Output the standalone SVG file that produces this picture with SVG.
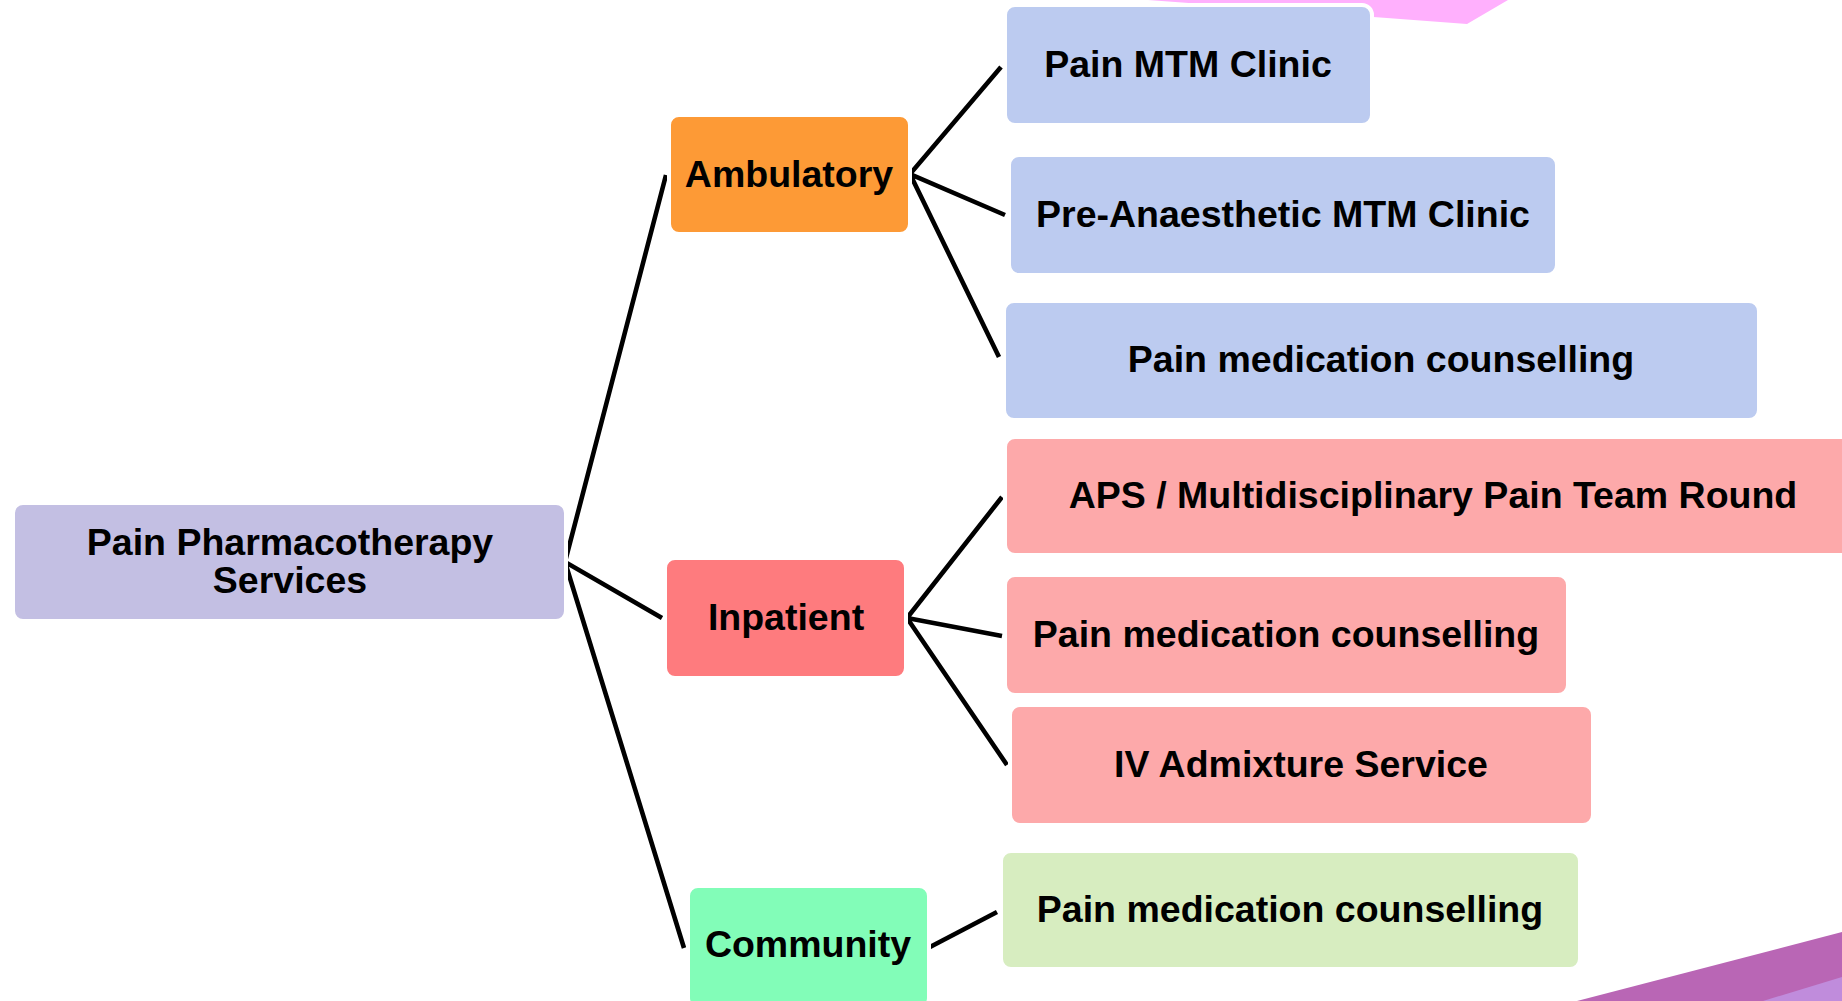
<svg xmlns="http://www.w3.org/2000/svg" width="1842" height="1001" viewBox="0 0 1842 1001">
<style>
.box{stroke:#ffffff;stroke-width:4}
.lbl{font-family:"Liberation Sans",Arial,sans-serif;font-weight:bold;font-size:37.5px;fill:#000;text-anchor:middle}
.conn{fill:none;stroke:#000;stroke-width:4.6;stroke-linejoin:miter;stroke-miterlimit:20}
.blue{fill:#bccbf0}
.pink{fill:#fda9aa}
.green{fill:#d7edc0}
</style>
<rect x="0" y="0" width="1842" height="1001" fill="#ffffff"/>
<g id="decor">
<polygon points="1148,0 1182,2.5 1467,24 1508,0" fill="#ffb0fd"/>
<polygon points="1577,1001 1842,932 1842,1001" fill="#b966b5"/>
<polygon points="1763,1001 1842,977 1842,1001" fill="#c08cdc"/>
</g>
<g id="connectors">
<path class="conn" d="M666,175 L565,562 L662,618 M565,562 L684,948"/>
<path class="conn" d="M1001,67 L910,174 L1005,215 M910,174 L999,357"/>
<path class="conn" d="M1002,497 L907,618 L1002,636 M907,618 L1007,765"/>
<path class="conn" d="M930,947 L997,912"/>
</g>
<g id="root">
<rect class="box" x="13" y="503" width="553" height="118" rx="10" fill="#c3bfe3"/>
<text class="lbl" x="290" y="555">Pain Pharmacotherapy</text>
<text class="lbl" x="290" y="593">Services</text>
</g>
<g id="ambulatory">
<rect class="box" x="669" y="115" width="241" height="119" rx="10" fill="#fd9a36"/>
<text class="lbl" x="789" y="187">Ambulatory</text>
</g>
<g id="inpatient">
<rect class="box" x="665" y="558" width="241" height="120" rx="10" fill="#fe7b7e"/>
<text class="lbl" x="786" y="630">Inpatient</text>
</g>
<g id="community">
<rect class="box" x="688" y="886" width="241" height="122" rx="10" fill="#82fdb8"/>
<text class="lbl" x="808" y="957">Community</text>
</g>
<g id="pain-mtm-clinic">
<rect class="box blue" x="1005" y="5" width="367" height="120" rx="10"/>
<text class="lbl" x="1188" y="77">Pain MTM Clinic</text>
</g>
<g id="pre-anaesthetic-mtm-clinic">
<rect class="box blue" x="1009" y="155" width="548" height="120" rx="10"/>
<text class="lbl" x="1283" y="227">Pre-Anaesthetic MTM Clinic</text>
</g>
<g id="amb-counselling">
<rect class="box blue" x="1004" y="301" width="755" height="119" rx="10"/>
<text class="lbl" x="1381" y="372">Pain medication counselling</text>
</g>
<g id="aps-round">
<rect class="box pink" x="1005" y="437" width="856" height="118" rx="10"/>
<text class="lbl" x="1433" y="508">APS / Multidisciplinary Pain Team Round</text>
</g>
<g id="inp-counselling">
<rect class="box pink" x="1005" y="575" width="563" height="120" rx="10"/>
<text class="lbl" x="1286" y="647">Pain medication counselling</text>
</g>
<g id="iv-admixture">
<rect class="box pink" x="1010" y="705" width="583" height="120" rx="10"/>
<text class="lbl" x="1301" y="777">IV Admixture Service</text>
</g>
<g id="comm-counselling">
<rect class="box green" x="1001" y="851" width="579" height="118" rx="10"/>
<text class="lbl" x="1290" y="922">Pain medication counselling</text>
</g>
</svg>
